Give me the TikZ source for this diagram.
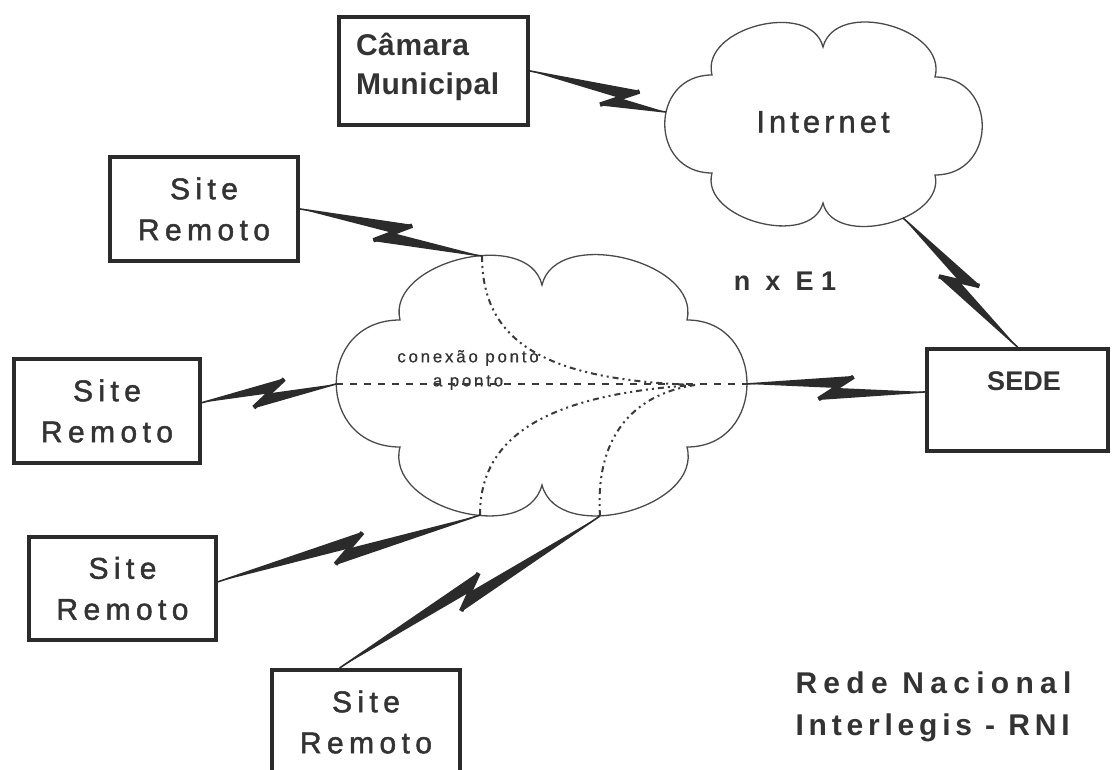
\documentclass[tikz,border=0pt]{standalone}
\usepackage{fontspec}
\setmainfont{Liberation Sans}
\newfontfamily\fsite[LetterSpace=18, FakeBold=1.6]{Liberation Sans}
\newfontfamily\frede[LetterSpace=21]{Liberation Sans}
\newfontfamily\finter[LetterSpace=16]{Liberation Sans}
\newfontfamily\fnxe[LetterSpace=28]{Liberation Sans}
\newfontfamily\finet[LetterSpace=13, FakeBold=1.2]{Liberation Sans}
\newfontfamily\fcon[LetterSpace=16, FakeBold=0.6]{Liberation Sans}
\newfontfamily\fcam[LetterSpace=2]{Liberation Sans}
\usetikzlibrary{calc}
\definecolor{ink}{HTML}{2B2B2B}
\definecolor{cloudc}{HTML}{4A4A4A}
\definecolor{txt}{HTML}{333333}
\definecolor{dashc}{HTML}{3A3A3A}
\newcommand\boltlink[4]{%
  \coordinate (#4c) at ($(#1)!#3!(#2)$);
  \coordinate (#4a) at ($(#4c)!17pt!(#2)!12pt!90:(#2)$);
  \coordinate (#4b) at ($(#4c)!-17pt!(#2)!12pt!-90:(#2)$);
  \fill[ink] (#1) -- (#4a) -- (#4c) -- cycle;
  \fill[ink] (#2) -- (#4b) -- (#4c) -- cycle;
  \draw[ink, line width=4.5pt] (#4a) -- (#4b);
  \draw[ink, line width=1.6pt] (#1) -- (#4a) (#4b) -- (#2);
}
\tikzset{
  box/.style={draw=ink, line width=4pt, inner sep=0pt, fill=white},
  sitebox/.style={box, minimum width=188, minimum height=104, align=center,
    text=txt, font=\fsite\fontsize{30}{41}\selectfont},
  cloudline/.style={draw=cloudc, line width=1.3pt, fill=white},
  dd/.style={draw=dashc, line width=2pt, dash pattern=on 6pt off 4pt on 2pt off 4pt on 2pt off 4pt},
  dsh/.style={draw=dashc, line width=1.8pt, dash pattern=on 7pt off 7pt},
}
\begin{document}
\begin{tikzpicture}[x=1pt, y=-1pt]
\useasboundingbox (0,0) rectangle (1112,770);
\clip (0,0) rectangle (1112,770);
\fill[white] (0,0) rectangle (1112,770);

% clouds
\draw[cloudline] (400,447) .. controls (315,447) and (315,320) .. (400,320)
  .. controls (386,262) and (528,227) .. (542,285)
  .. controls (556,226) and (701,261) .. (687,320)
  .. controls (767,320) and (767,447) .. (687,447)
  .. controls (703,508) and (558,546) .. (542,485)
  .. controls (526,546) and (384,508) .. (400,447) -- cycle;
\draw[cloudline] (712,173) .. controls (649,173) and (649,75) .. (712,75)
  .. controls (700,27.5) and (811,-0.5) .. (823,47)
  .. controls (836,-2) and (948,28) .. (935,77)
  .. controls (998,77) and (998,175) .. (935,175)
  .. controls (946,221) and (834,249) .. (823,203)
  .. controls (810.5,249) and (699.5,219) .. (712,173) -- cycle;

\coordinate (bigT) at (482,256);
\coordinate (bigL) at (336,384);
\coordinate (bigB1) at (480,515);
\coordinate (bigB2) at (600,516);
\coordinate (bigR) at (747,384);
\coordinate (conv) at (695,385);
\coordinate (inetL) at (666,112);
\coordinate (inetB) at (903,218);

% cloud texts
\node[text=txt, font=\finet\fontsize{31}{36}\selectfont] (inet) at (823,122) {Internet};
\node[text=txt, align=center, font=\fcon\fontsize{17}{24}\selectfont] (ptp) at (468,370) {conexão ponto\\a ponto};

% dashed paths inside the cloud
\draw[dsh] (bigL) -- (bigR);
\draw[dd] (bigT) .. controls (482,345) and (550,380) .. (conv);
\draw[dd] (bigB1) .. controls (480,440) and (540,395) .. (conv);
\draw[dd] (bigB2) .. controls (595,440) and (630,395) .. (conv);

% boxes
\node[sitebox] (site1) at (204,209) {Site\\Remoto};
\node[sitebox, minimum width=186] (site2) at (107,411) {Site\\Remoto};
\node[sitebox, minimum width=187, minimum height=103] (site3) at (122.5,588.5) {Site\\Remoto};
\node[sitebox] (site4) at (366,722) {Site\\Remoto};
\node[box, minimum width=189, minimum height=108] (cam) at (433.5,71) {};
\node[text=txt, text width=155, align=left, font=\fcam\bfseries\fontsize{30}{39}\selectfont] (camtxt) at (433.5,67) {Câmara\\Municipal};
\node[box, minimum width=181, minimum height=102] (sede) at (1017.5,400) {};
\node[text=txt, font=\bfseries\fontsize{27}{30}\selectfont] (sedetxt) at (1024,381) {SEDE};

% labels
\node[text=txt, font=\fnxe\bfseries\fontsize{27}{30}\selectfont] (nxe) at (785,281) {n x E1};
\node[text=txt, anchor=base west, font=\frede\bfseries\fontsize{30}{32}\selectfont] (rede) at (792,693) {Rede Nacional};
\node[text=txt, anchor=base west, font=\finter\bfseries\fontsize{30}{32}\selectfont] (rni) at (792,735) {Interlegis - RNI};

% lightning links
\boltlink{cam.east}{inetL}{0.66}{k1}
\boltlink{inetB}{sede.north}{0.49}{k2}
\boltlink{site1.east}{bigT}{0.51}{k3}
\boltlink{site2.5}{bigL}{0.5}{k4}
\boltlink{site3.4}{bigB1}{0.5}{k5}
\boltlink{site4.116}{bigB2}{0.5}{k6}
\boltlink{bigR}{sede.175}{0.5}{k7}
\end{tikzpicture}
\end{document}
